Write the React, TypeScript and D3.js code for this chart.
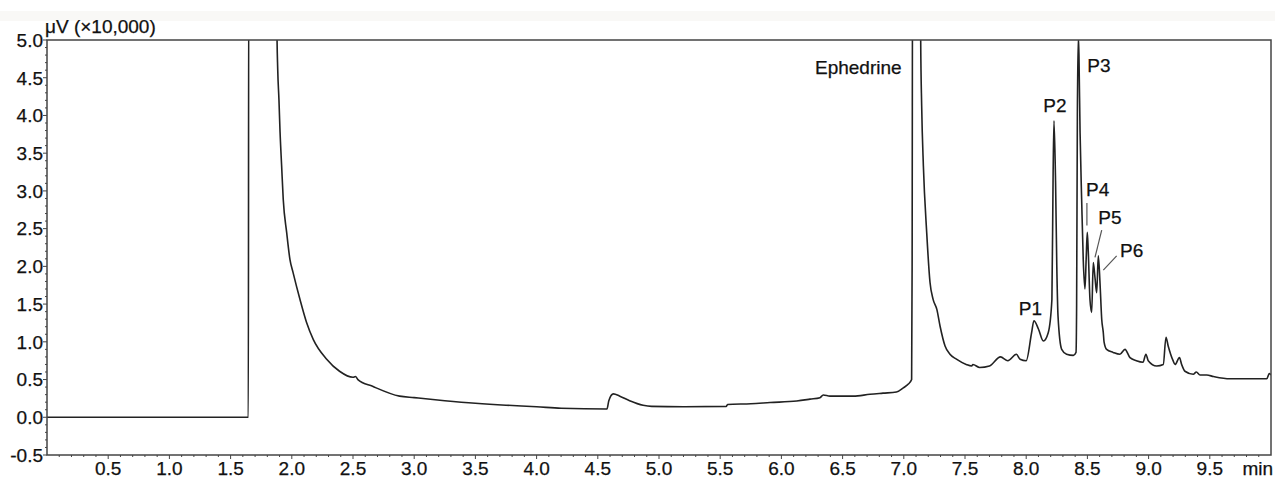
import * as d3 from 'd3'
import { useEffect, useRef } from 'react'

// retention time (min) and signal (µV ×10,000); >5 is off scale
const times = [
  0, 1.645, 1.648, 1.875, 1.878, 1.885, 1.895, 1.904, 1.917, 1.93, 1.958, 1.985, 2.01, 2.067, 2.12, 2.176,
  2.285, 2.39, 2.5, 2.52, 2.54, 2.66, 2.88, 3.0, 3.25, 3.5, 3.75, 4.0, 4.2, 4.575, 4.59, 4.627, 4.68, 4.76,
  4.87, 4.94, 5.2, 5.55, 5.56, 5.75, 5.907, 6.125, 6.234, 6.315, 6.342, 6.397, 6.588, 6.724, 6.83, 6.94,
  6.996, 7.037, 7.064, 7.068, 7.072, 7.134, 7.138, 7.146, 7.16, 7.187, 7.214, 7.24, 7.27, 7.296, 7.337,
  7.377, 7.43, 7.51, 7.555, 7.565, 7.62, 7.7, 7.79, 7.85, 7.92, 7.95, 8.0, 8.044, 8.063, 8.1, 8.14, 8.18,
  8.21, 8.22, 8.227, 8.24, 8.25, 8.26, 8.29, 8.33, 8.385, 8.407, 8.412, 8.418, 8.426, 8.431, 8.44, 8.453,
  8.466, 8.48, 8.49, 8.499, 8.507, 8.521, 8.535, 8.548, 8.562, 8.576, 8.589, 8.603, 8.617, 8.63, 8.636,
  8.657, 8.71, 8.766, 8.807, 8.848, 8.9, 8.954, 8.978, 8.997, 9.066, 9.12, 9.142, 9.16, 9.2, 9.216, 9.252,
  9.27, 9.297, 9.365, 9.39, 9.42, 9.475, 9.53, 9.665, 9.965, 9.986, 10.0,
]
const signal = [
  0, 0, 6, 6, 5.2, 4.61, 4.21, 3.78, 3.33, 2.89, 2.45, 2.09, 1.92, 1.56, 1.26, 1.03,
  0.77, 0.61, 0.53, 0.54, 0.5, 0.41, 0.28, 0.26, 0.22, 0.186, 0.16, 0.14, 0.12, 0.11, 0.22, 0.31, 0.28, 0.22,
  0.16, 0.145, 0.14, 0.145, 0.17, 0.18, 0.195, 0.215, 0.24, 0.26, 0.295, 0.28, 0.28, 0.305, 0.32, 0.335,
  0.39, 0.44, 0.5, 2.0, 6.5, 6.5, 5.0, 4.13, 3.33, 2.45, 1.79, 1.56, 1.43, 1.21, 0.945,
  0.835, 0.77, 0.7, 0.68, 0.7, 0.66, 0.68, 0.8, 0.75, 0.835, 0.77, 0.75, 1.12, 1.28, 1.17, 1.01, 1.12,
  1.56, 3.24, 3.93, 3.11, 2.0, 1.34, 0.9, 0.835, 0.82, 0.86, 1.5, 4.0, 5.05, 4.8, 3.78, 2.89,
  2.09, 1.7, 2.1, 2.45, 2.2, 1.56, 1.39, 2.05, 1.85, 1.65, 2.14, 1.78, 1.3, 1.12, 1.0,
  0.9, 0.86, 0.835, 0.9, 0.79, 0.75, 0.73, 0.835, 0.75, 0.68, 0.7, 1.06, 0.945, 0.75, 0.7, 0.79,
  0.7, 0.61, 0.57, 0.6, 0.56, 0.56, 0.54, 0.51, 0.51, 0.58, 0.56,
]

const yTicks = [-0.5, 0, 0.5, 1, 1.5, 2, 2.5, 3, 3.5, 4, 4.5, 5]
const xTicks = [0.5, 1, 1.5, 2, 2.5, 3, 3.5, 4, 4.5, 5, 5.5, 6, 6.5, 7, 7.5, 8, 8.5, 9, 9.5]

// peak labels: text, time, signal at baseline
const peakNames = ['Ephedrine', 'P1', 'P2', 'P3', 'P4', 'P5', 'P6']
const peakLabelT = [6.982, 7.94, 8.14, 8.499, 8.489, 8.589, 8.766]
const peakLabelV = [4.55, 1.36, 4.04, 4.57, 2.93, 2.56, 2.12]
// leader lines [t1, v1, t2, v2]
const leaders = [
  [8.496, 2.84, 8.496, 2.54],
  [8.617, 2.48, 8.562, 2.12],
  [8.739, 2.14, 8.63, 1.95],
]

export default function App() {
  const ref = useRef<SVGSVGElement | null>(null)

  useEffect(() => {
    const el = ref.current
    if (!el) return
    const svg = d3.select(el)
    svg.selectAll('*').remove()

    const W = 1275
    const H = 478
    const left = 47
    const right = 1271
    const top = 40
    const bottom = 455
    const font = 'Liberation Sans, Arial, sans-serif'

    const x = d3.scaleLinear().domain([0, 10]).range([left, right])
    const y = d3.scaleLinear().domain([-0.5, 5]).range([bottom, top])

    svg.attr('width', W).attr('height', H)
    svg.append('rect').attr('width', W).attr('height', H).attr('fill', '#fff')
    svg.append('rect').attr('x', 0).attr('y', 11).attr('width', W).attr('height', 10).attr('fill', '#f9f8f6')

    svg.append('defs').append('clipPath').attr('id', 'plot-clip')
      .append('rect').attr('x', left).attr('y', top).attr('width', right - left).attr('height', bottom - top)

    // ticks, major every 0.5 and minor every 0.1
    const g = svg.append('g').attr('stroke', '#444').attr('stroke-width', 1)
    d3.range(-5, 51).forEach((i) => {
      const v = i / 10
      const major = i % 5 === 0
      g.append('line').attr('x1', left).attr('x2', left - (major ? 4 : 2))
        .attr('y1', y(v)).attr('y2', y(v))
    })
    d3.range(1, 100).forEach((i) => {
      const t = i / 10
      const major = i % 5 === 0
      g.append('line').attr('y1', bottom).attr('y2', bottom + (major ? 4 : 2))
        .attr('x1', x(t)).attr('x2', x(t))
    })

    // trace
    const pts: [number, number][] = times.map((t, i) => [t, signal[i]])
    const line = d3.line<[number, number]>()
      .x((d) => x(d[0]))
      .y((d) => y(d[1]))
      .curve(d3.curveMonotoneX)
    svg.append('path')
      .attr('d', line(pts))
      .attr('clip-path', 'url(#plot-clip)')
      .attr('fill', 'none')
      .attr('stroke', '#222')
      .attr('stroke-width', 1.6)
      .attr('stroke-linejoin', 'round')

    // frame
    svg.append('rect')
      .attr('x', left).attr('y', top).attr('width', right - left).attr('height', bottom - top)
      .attr('fill', 'none').attr('stroke', '#444').attr('stroke-width', 1.5)

    const txt = svg.append('g')
      .attr('font-family', font).attr('font-size', 19)
      .attr('fill', '#111').attr('stroke', '#111').attr('stroke-width', 0.25)

    yTicks.forEach((v) => {
      txt.append('text').attr('x', left - 4).attr('y', y(v)).attr('dy', '0.36em')
        .attr('text-anchor', 'end').text(v.toFixed(1))
    })
    xTicks.forEach((t) => {
      txt.append('text').attr('x', x(t)).attr('y', 475)
        .attr('text-anchor', 'middle').text(t.toFixed(1))
    })
    txt.append('text').attr('x', W - 2).attr('y', 475).attr('text-anchor', 'end').text('min')
    txt.append('text').attr('x', 45).attr('y', 33).text('μV (×10,000)')

    peakNames.forEach((name, i) => {
      txt.append('text')
        .attr('x', x(peakLabelT[i])).attr('y', y(peakLabelV[i]))
        .attr('text-anchor', i === 0 ? 'end' : 'start')
        .text(name)
    })

    leaders.forEach(([t1, v1, t2, v2]) => {
      svg.append('line')
        .attr('x1', x(t1)).attr('y1', y(v1)).attr('x2', x(t2)).attr('y2', y(v2))
        .attr('stroke', '#555').attr('stroke-width', 1.2)
    })
  }, [])

  return <svg ref={ref} style={{ position: 'absolute', left: 0, top: 0, display: 'block' }} />
}
